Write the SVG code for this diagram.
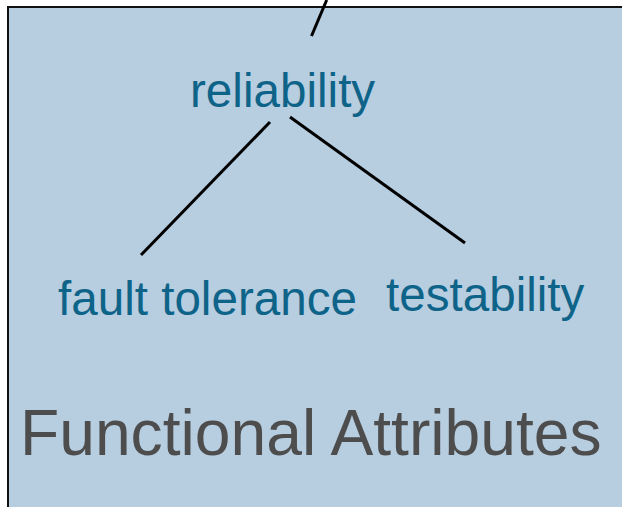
<svg xmlns="http://www.w3.org/2000/svg" width="622" height="507" viewBox="0 0 622 507">
  <style>
    .panel { fill: #b7cde0; stroke: #111111; stroke-width: 2; }
    .edge { stroke: #000; stroke-width: 3; fill: none; }
    .attr { font-family: "Liberation Sans", Arial, sans-serif; font-size: 47.6px; fill: #0e6388; }
    .title { font-family: "Liberation Sans", Arial, sans-serif; font-size: 64.2px; fill: #4d4d4d; }
  </style>
  <rect width="622" height="507" fill="#ffffff"/>
  <rect class="panel" x="8" y="7" width="630" height="520"/>
  <g id="connectors">
    <line class="edge" x1="326.7" y1="0" x2="311.5" y2="36"/>
    <line class="edge" x1="270" y1="122" x2="141" y2="255"/>
    <line class="edge" x1="290" y1="117" x2="465" y2="243"/>
  </g>
  <g id="reliability">
    <text class="attr" x="190" y="107">reliability</text>
  </g>
  <g id="fault-tolerance">
    <text class="attr" x="58" y="315">fault tolerance</text>
  </g>
  <g id="testability">
    <text class="attr" x="386" y="311">testability</text>
  </g>
  <g id="functional-attributes">
    <text class="title" x="20" y="455">Functional Attributes</text>
  </g>
</svg>
